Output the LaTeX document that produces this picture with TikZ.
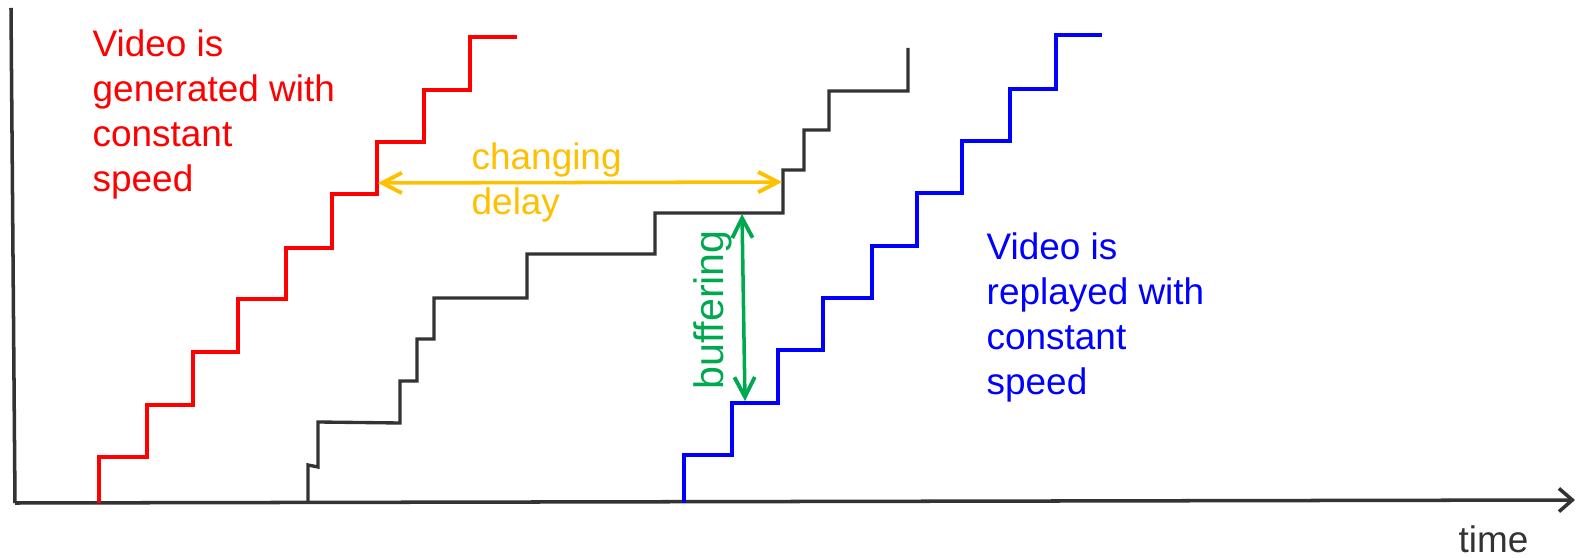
\documentclass[tikz,border=0pt]{standalone}
\usepackage{fontspec}
\setmainfont{Liberation Sans}
\usetikzlibrary{arrows.meta}
\definecolor{axisgray}{HTML}{333333}
\definecolor{genred}{HTML}{FF0000}
\definecolor{playblue}{HTML}{0000FF}
\definecolor{delayorange}{HTML}{FFC000}
\definecolor{buffgreen}{HTML}{00A850}
\tikzset{
  axisline/.style={draw=axisgray, line width=1pt},
  stair/.style={line width=1.15pt, line join=miter},
  netstair/.style={draw=axisgray, line width=0.95pt, line join=miter},
  label/.style={font=\fontsize{10.5}{12.8}\selectfont, inner sep=0pt, align=left},
  barb/.tip={Straight Barb[length=5.6pt,width=5.8pt,line width=1.1pt]},
  measure/.style={line width=1pt, {barb}-{barb}},
}
\begin{document}
\begin{tikzpicture}[x=0.01cm, y=-0.01cm]
\useasboundingbox (0,0) rectangle (1579,558);

% axes
\coordinate (top) at (11,8);
\coordinate (origin) at (15,503);
\coordinate (tend) at (1575,500);
\draw[axisline] (top) -- (origin);
\draw[axisline, -{Straight Barb[length=3.8pt,width=6.6pt]}] (origin) -- (tend);
\node[label, anchor=base west, text=axisgray] (time) at (1458,552) {time};

% video generated at the source
\draw[stair, draw=genred] (99,503) -- (99,457) -- (147,457) -- (147,405) -- (193,405)
  -- (193,352) -- (238,352) -- (238,299) -- (286,299) -- (286,248) -- (332,248)
  -- (332,194) -- (377,194) -- (377,142) -- (424,142) -- (424,90) -- (470,90)
  -- (470,37) -- (517,37);

% video arriving over the network
\draw[netstair] (308,503) -- (308,465) -- (318,467) -- (318,422) -- (400,423)
  -- (400,381) -- (417,381) -- (417,339) -- (434,339) -- (434,298) -- (527,298)
  -- (527,254) -- (655,254) -- (655,213) -- (783,213) -- (783,170) -- (804,170)
  -- (804,130) -- (829,130) -- (829,91) -- (908,91) -- (908,48);

% video replayed at the receiver
\draw[stair, draw=playblue] (684,503) -- (684,455) -- (732,455) -- (732,403) -- (778,403)
  -- (778,350) -- (823,350) -- (823,298) -- (872,298) -- (872,246) -- (917,246)
  -- (917,193) -- (962,193) -- (962,141) -- (1010,141) -- (1010,89) -- (1056,89)
  -- (1056,35) -- (1102,35);

% labels (anchored at the baseline of their last line)
\node[label, anchor=base west, text=genred] (gen) at (92,192)
  {Video is\\generated with\\constant\\speed};
\node[label, anchor=base west, text=playblue] (play) at (986,395)
  {Video is\\replayed with\\constant\\speed};

% delay between source and network
\coordinate (dl) at (378,183);
\coordinate (dr) at (782,182);
\draw[measure, draw=delayorange] (dl) -- (dr);
\node[label, anchor=base west, text=delayorange] (delay) at (471,215)
  {changing\\delay};

% buffer between network and playback
\coordinate (bt) at (742,214);
\coordinate (bb) at (745,401);
\draw[measure, draw=buffgreen] (bt) -- (bb);
\node[label, font=\fontsize{11.7}{14}\selectfont, text=buffgreen, rotate=90] (buff) at (713,310) {buffering};
\end{tikzpicture}
\end{document}
